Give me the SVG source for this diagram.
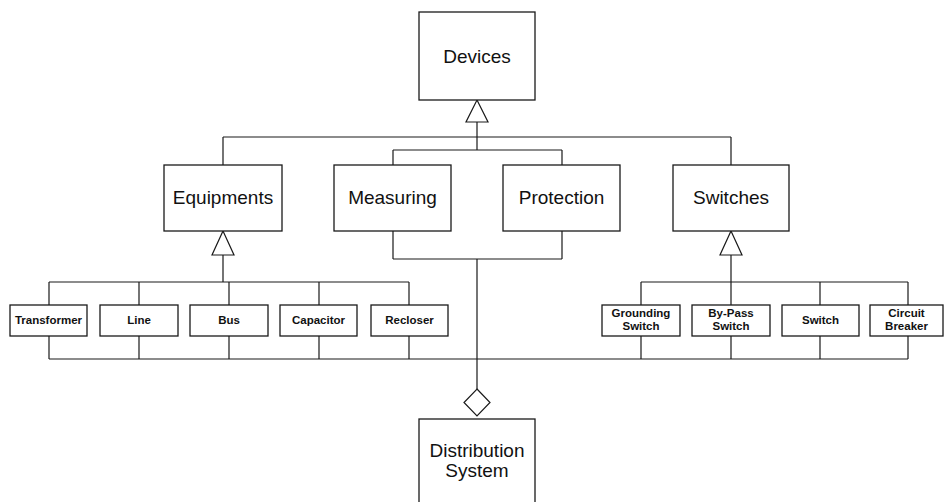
<svg xmlns="http://www.w3.org/2000/svg" width="944" height="502" viewBox="0 0 944 502">
<style>
.box{fill:#fff;stroke:#1a1a1a;stroke-width:1.3}
.ln{fill:none;stroke:#1a1a1a;stroke-width:1.2}
.tri{fill:#fff;stroke:#1a1a1a;stroke-width:1.2}
.big{font-family:"Liberation Sans",Arial,sans-serif;font-size:19px;fill:#111;text-anchor:middle}
.sm{font-family:"Liberation Sans",Arial,sans-serif;font-size:11.5px;font-weight:bold;fill:#111;text-anchor:middle}
</style>
<rect width="944" height="502" fill="#fff"/>
<g id="connectors">
<path class="ln" d="M477 122V150M223 137H731M223 137V165M731 137V165M393 150H562M393 150V165M562 150V165"/>
<path class="ln" d="M393 231V259M562 231V259M393 259H562M477 259V389"/>
<path class="ln" d="M223 255V282M49 282H409M49 282V305M139 282V305M229 282V305M319 282V305M409 282V305"/>
<path class="ln" d="M731 255V282M641 282H908M641 282V305M731 282V305M820 282V305M908 282V305"/>
<path class="ln" d="M49 359H908M49 336V359M139 336V359M229 336V359M319 336V359M409 336V359M641 336V359M731 336V359M820 336V359M908 336V359"/>
<polygon class="tri" points="477,100 488,122 466,122"/>
<polygon class="tri" points="223,231 234,255 212,255"/>
<polygon class="tri" points="731,231 742,255 720,255"/>
<polygon class="tri" points="477,389 490,402.5 477,416 464,402.5"/>
</g>
<g id="devices"><rect class="box" x="419" y="12" width="116" height="88"/><text class="big" x="477" y="63">Devices</text></g>
<g id="equipments"><rect class="box" x="164" y="165" width="118" height="66"/><text class="big" x="223" y="204">Equipments</text></g>
<g id="measuring"><rect class="box" x="334" y="165" width="117" height="66"/><text class="big" x="392.5" y="204">Measuring</text></g>
<g id="protection"><rect class="box" x="503" y="165" width="117" height="66"/><text class="big" x="561.5" y="204">Protection</text></g>
<g id="switches"><rect class="box" x="673" y="165" width="116" height="66"/><text class="big" x="731" y="204">Switches</text></g>
<g id="transformer"><rect class="box" x="10" y="305" width="77" height="31"/><text class="sm" x="48.5" y="324">Transformer</text></g>
<g id="line"><rect class="box" x="100" y="305" width="78" height="31"/><text class="sm" x="139" y="324">Line</text></g>
<g id="bus"><rect class="box" x="190" y="305" width="78" height="31"/><text class="sm" x="229" y="324">Bus</text></g>
<g id="capacitor"><rect class="box" x="280" y="305" width="77" height="31"/><text class="sm" x="318.5" y="324">Capacitor</text></g>
<g id="recloser"><rect class="box" x="371" y="305" width="77" height="31"/><text class="sm" x="409.5" y="324">Recloser</text></g>
<g id="grounding-switch"><rect class="box" x="602" y="305" width="78" height="31"/><text class="sm" x="641" y="317">Grounding</text><text class="sm" x="641" y="330">Switch</text></g>
<g id="bypass-switch"><rect class="box" x="692" y="305" width="78" height="31"/><text class="sm" x="731" y="317">By-Pass</text><text class="sm" x="731" y="330">Switch</text></g>
<g id="switch"><rect class="box" x="782" y="305" width="77" height="31"/><text class="sm" x="820.5" y="324">Switch</text></g>
<g id="circuit-breaker"><rect class="box" x="870" y="305" width="73" height="31"/><text class="sm" x="906.5" y="317">Circuit</text><text class="sm" x="906.5" y="330">Breaker</text></g>
<g id="distribution-system"><rect class="box" x="419" y="419" width="116" height="90"/><text class="big" x="477" y="457">Distribution</text><text class="big" x="477" y="477">System</text></g>
</svg>
